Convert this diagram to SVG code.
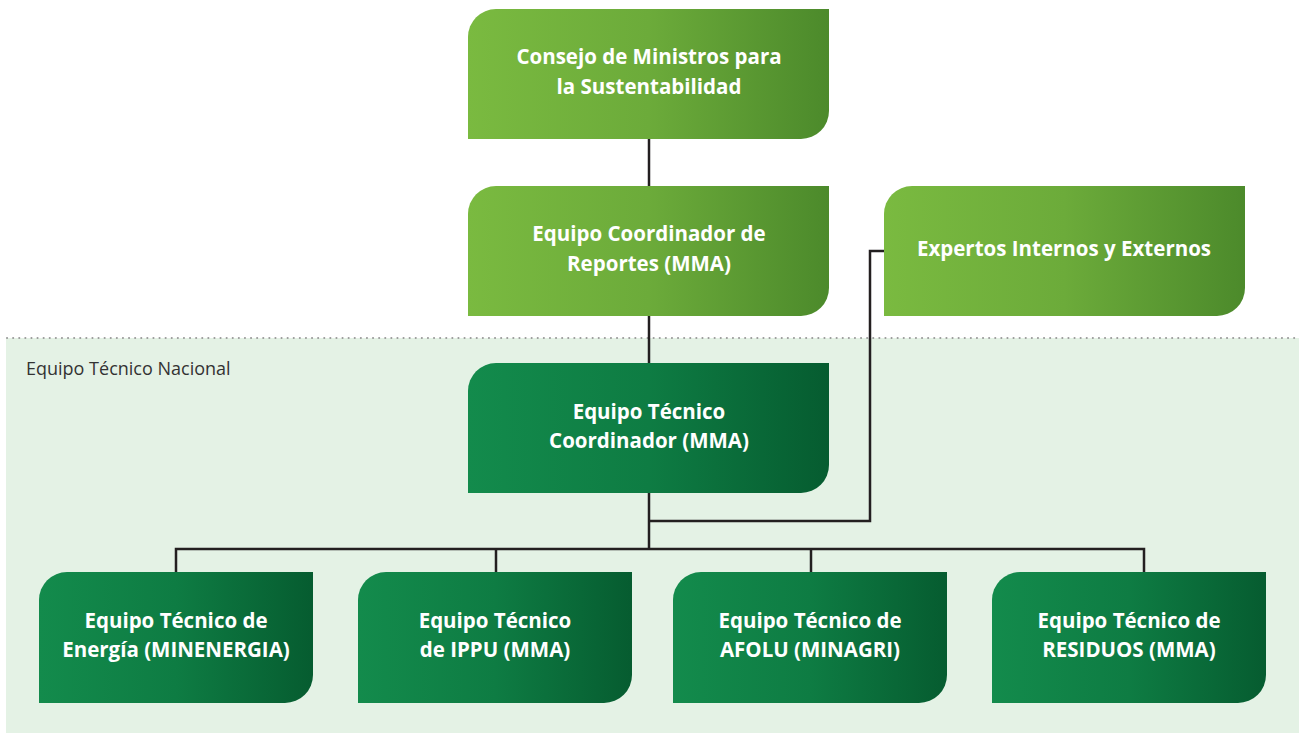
<svg xmlns="http://www.w3.org/2000/svg" width="1299" height="733" viewBox="0 0 1299 733">
<defs>
<linearGradient id="gLight" x1="0" y1="0" x2="1" y2="0">
<stop offset="0" stop-color="#7aba40"/>
<stop offset="0.5" stop-color="#6cab3a"/>
<stop offset="1" stop-color="#4c8a2b"/>
</linearGradient>
<linearGradient id="gDark" x1="0" y1="0" x2="1" y2="0">
<stop offset="0" stop-color="#138b4c"/>
<stop offset="0.5" stop-color="#0e7c43"/>
<stop offset="1" stop-color="#065c30"/>
</linearGradient>
<style>
.t{font-family:"Open Sans","Noto Sans","Liberation Sans",sans-serif;font-weight:700;font-size:20.5px;fill:#ffffff;text-anchor:middle}
.c{fill:none;stroke:#231f20;stroke-width:2.5}
.lbl{font-family:"Open Sans","Noto Sans","Liberation Sans",sans-serif;font-size:18px;fill:#333333}
</style>
</defs>
<rect x="0" y="0" width="1299" height="733" fill="#ffffff"/>
<rect x="6" y="338" width="1293" height="395" fill="#e4f2e5"/>
<line x1="7" y1="338" x2="1299" y2="338" stroke="#9a9a9a" stroke-width="2" stroke-linecap="round" stroke-dasharray="0.1 6"/>
<text class="lbl" x="26" y="375">Equipo Técnico Nacional</text>
<g id="connectors">
<path class="c" d="M649 139V186"/>
<path class="c" d="M649 316V363"/>
<path class="c" d="M649 493V549"/>
<path class="c" d="M649 521H870V251H884"/>
<path class="c" d="M176 572V549H1144V572"/>
<path class="c" d="M496 549V572"/>
<path class="c" d="M811 549V572"/>
</g>
<g id="consejo">
<path d="M496 9H829V111A28 28 0 0 1 801 139H468V37A28 28 0 0 1 496 9Z" fill="url(#gLight)"/>
<text class="t" x="649" y="64">Consejo de Ministros para</text>
<text class="t" x="649" y="94">la Sustentabilidad</text>
</g>
<g id="coordinador-reportes">
<path d="M496 186H829V288A28 28 0 0 1 801 316H468V214A28 28 0 0 1 496 186Z" fill="url(#gLight)"/>
<text class="t" x="649" y="241">Equipo Coordinador de</text>
<text class="t" x="649" y="271">Reportes (MMA)</text>
</g>
<g id="expertos">
<path d="M912 186H1245V288A28 28 0 0 1 1217 316H884V214A28 28 0 0 1 912 186Z" fill="url(#gLight)"/>
<text class="t" x="1064" y="256">Expertos Internos y Externos</text>
</g>
<g id="tecnico-coordinador">
<path d="M496 363H829V465A28 28 0 0 1 801 493H468V391A28 28 0 0 1 496 363Z" fill="url(#gDark)"/>
<text class="t" x="649" y="419">Equipo Técnico</text>
<text class="t" x="649" y="448">Coordinador (MMA)</text>
</g>
<g id="energia">
<path d="M67 572H313V675A28 28 0 0 1 285 703H39V600A28 28 0 0 1 67 572Z" fill="url(#gDark)"/>
<text class="t" x="176" y="628">Equipo Técnico de</text>
<text class="t" x="176" y="657">Energía (MINENERGIA)</text>
</g>
<g id="ippu">
<path d="M386 572H632V675A28 28 0 0 1 604 703H358V600A28 28 0 0 1 386 572Z" fill="url(#gDark)"/>
<text class="t" x="495" y="628">Equipo Técnico</text>
<text class="t" x="495" y="657">de IPPU (MMA)</text>
</g>
<g id="afolu">
<path d="M701 572H947V675A28 28 0 0 1 919 703H673V600A28 28 0 0 1 701 572Z" fill="url(#gDark)"/>
<text class="t" x="810" y="628">Equipo Técnico de</text>
<text class="t" x="810" y="657">AFOLU (MINAGRI)</text>
</g>
<g id="residuos">
<path d="M1020 572H1266V675A28 28 0 0 1 1238 703H992V600A28 28 0 0 1 1020 572Z" fill="url(#gDark)"/>
<text class="t" x="1129" y="628">Equipo Técnico de</text>
<text class="t" x="1129" y="657">RESIDUOS (MMA)</text>
</g>
</svg>
